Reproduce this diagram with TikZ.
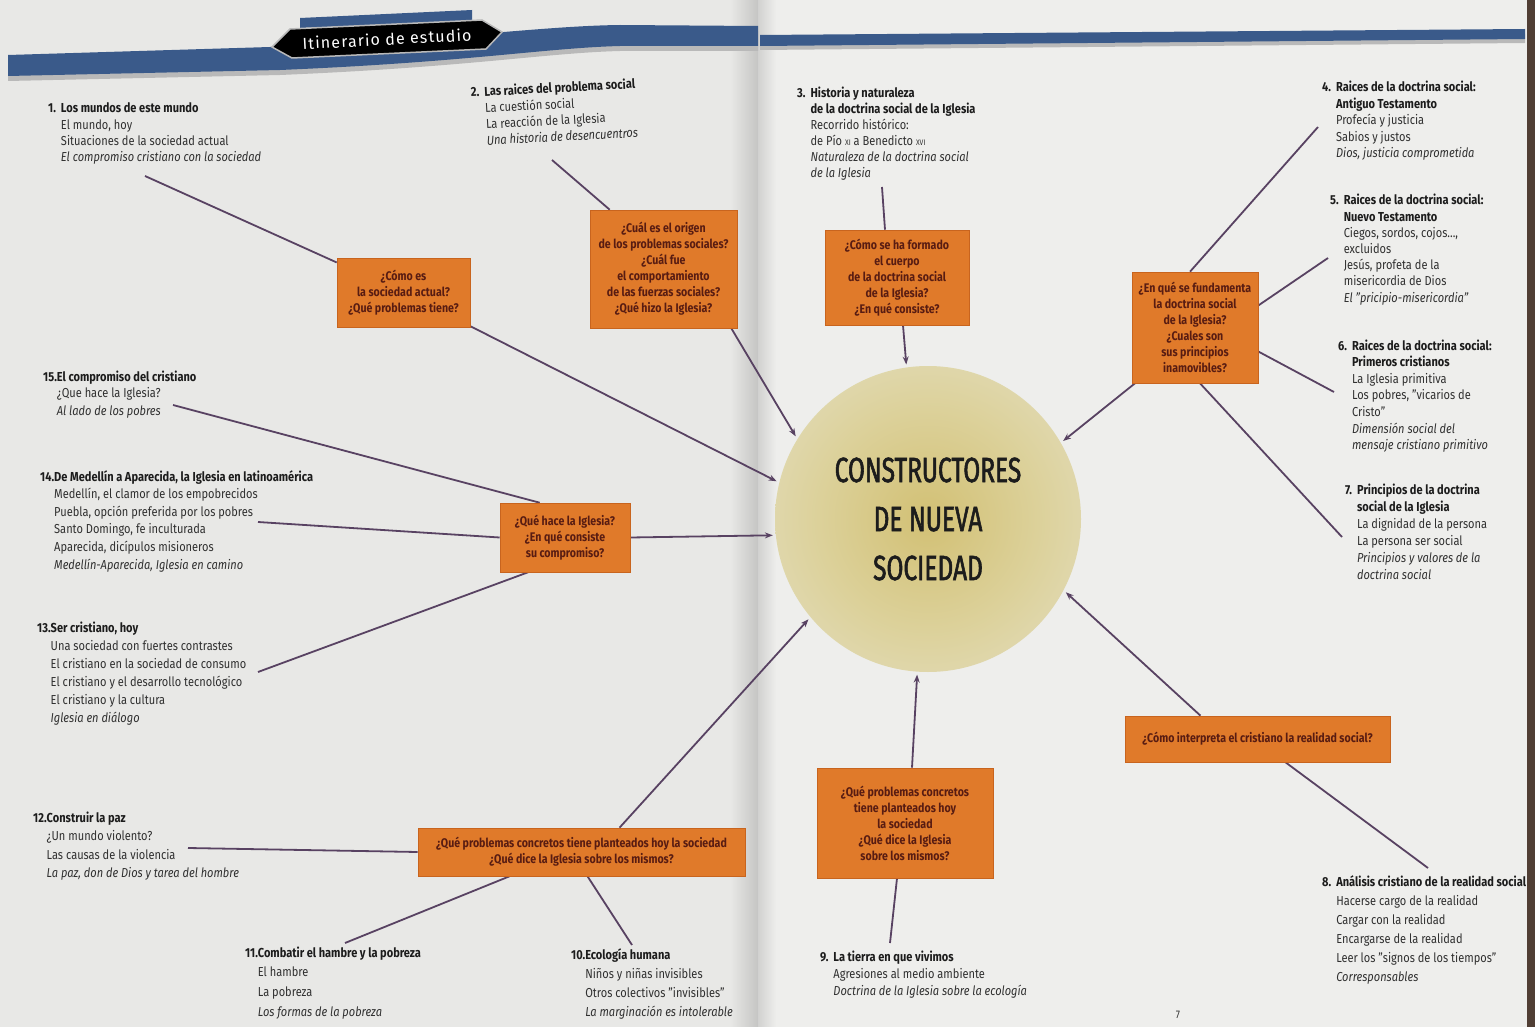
\documentclass[tikz,border=0pt]{standalone}
\usepackage{fontspec}
\setmainfont{Fira Sans}[FakeStretch=0.85]
\newfontfamily\bigfont{Fira Sans}[FakeStretch=0.7, FakeBold=1.6]
\newfontfamily\hdrfont{Fira Sans}[LetterSpace=7]
\usetikzlibrary{arrows.meta,calc}
\pgfdeclarelayer{paper}
\pgfdeclarelayer{bg}
\pgfsetlayers{paper,bg,main}
\definecolor{pageL}{RGB}{232,232,230}
\definecolor{pageR}{RGB}{238,238,236}
\definecolor{edgec}{RGB}{80,62,52}
\definecolor{bandblue}{RGB}{58,90,138}
\definecolor{shadowg}{RGB}{185,185,185}
\definecolor{orangebox}{RGB}{224,122,42}
\definecolor{orangedark}{RGB}{200,100,30}
\definecolor{boxtxt}{RGB}{88,28,18}
\definecolor{connc}{RGB}{88,66,98}
\definecolor{bodytxt}{RGB}{48,48,48}
\definecolor{titletxt}{RGB}{28,28,28}
\definecolor{ballin}{RGB}{210,192,116}
\definecolor{ballmid}{RGB}{220,209,154}
\definecolor{ballout}{RGB}{229,225,200}
\definecolor{balledge}{RGB}{235,233,220}
\pgfdeclareradialshading{ball}{\pgfpoint{0bp}{0bp}}{color(0bp)=(ballin); color(18bp)=(ballmid); color(38bp)=(ballout); color(50bp)=(balledge)}
\newcommand{\blockitem}[3]{\begin{tabular}[t]{@{}l@{}l@{}}\color{titletxt}\textbf{#1}&\color{titletxt}\textbf{#2}\\#3\end{tabular}}
\tikzset{
  txtblk/.style={anchor=base west, inner sep=0pt, text=bodytxt, font=\fontsize{13}{#1}\selectfont},
  txtblk/.default=17,
  qbox/.style={fill=orangebox, draw=orangedark, line width=0.6pt, text=boxtxt,
    font=\fontsize{12.5}{16}\selectfont\bfseries, align=center, inner sep=0pt},
  conn/.style={draw=connc, line width=1.8pt},
  arr/.style={conn, -{Stealth[length=8pt,width=6pt]}},
}
\begin{document}
\begin{tikzpicture}[x=1pt,y=-1pt]
\useasboundingbox (0,0) rectangle (1535,1027);
\begin{pgfonlayer}{paper}
\fill[pageL] (0,0) rectangle (758,1027);
\fill[pageR] (758,0) rectangle (1527,1027);
\shade[left color=pageL, right color=pageL!85!black] (730,0) rectangle (758,1027);
\shade[left color=pageR!88!black, right color=pageR] (758,0) rectangle (776,1027);
\fill[edgec] (1527,0) rectangle (1535,1027);
% header band shadow
\fill[shadowg] (8,60) -- (270,52) .. controls (450,45) and (540,31) .. (620,30) -- (758,31) -- (758,51) -- (620,51) .. controls (545,53) and (470,67) .. (280,75) -- (8,81) -- cycle;
\fill[bandblue] (8,55) -- (270,47) .. controls (450,40) and (540,26) .. (620,25) -- (758,26) -- (758,46) -- (620,46) .. controls (545,48) and (470,62) .. (280,70) -- (8,76) -- cycle;
\fill[shadowg] (760,40) -- (1525,34) -- (1525,43) -- (760,50) -- cycle;
\fill[bandblue] (760,35) -- (1525,29) -- (1525,39) -- (760,46) -- cycle;
% badge
\fill[bandblue] (300,18) -- (472,10) -- (472,21) -- (300,28) -- cycle;
\filldraw[fill=black, draw=gray!55, line width=1.5pt] (272,47) -- (290,29) -- (482,20) -- (502,32) -- (486,49) -- (292,58) -- cycle;
\end{pgfonlayer}
\node[text=white, font=\hdrfont\fontsize{16}{18}\selectfont, rotate=3, inner sep=0pt] (hdr) at (387,39) {Itinerario de estudio};

% central circle
\node[circle, shading=ball, minimum size=306pt, inner sep=0pt, outer sep=3pt, align=center,
  text=titletxt, font=\bigfont\fontsize{35}{49}\selectfont] (circ) at (928,519)
  {CONSTRUCTORES\\DE NUEVA\\SOCIEDAD};

% question boxes
\node[qbox, minimum width=133pt, minimum height=69pt] (A) at (403.5,292.5)
  {¿Cómo es\\la sociedad actual?\\¿Qué problemas tiene?};
\node[qbox, minimum width=147pt, minimum height=118pt] (B) at (663.5,269)
  {¿Cuál es el origen\\de los problemas sociales?\\¿Cuál fue\\el comportamiento\\de las fuerzas sociales?\\¿Qué hizo la Iglesia?};
\node[qbox, minimum width=144pt, minimum height=95pt] (C) at (897,277.5)
  {¿Cómo se ha formado\\el cuerpo\\de la doctrina social\\de la Iglesia?\\¿En qué consiste?};
\node[qbox, minimum width=126pt, minimum height=111pt] (D) at (1195,327.5)
  {¿En qué se fundamenta\\la doctrina social\\de la Iglesia?\\¿Cuales son\\sus principios\\inamovibles?};
\node[qbox, minimum width=130pt, minimum height=69pt] (E) at (565,537.5)
  {¿Qué hace la Iglesia?\\¿En qué consiste\\su compromiso?};
\node[qbox, minimum width=327pt, minimum height=48pt] (F) at (581.5,852)
  {¿Qué problemas concretos tiene planteados hoy la sociedad\\¿Qué dice la Iglesia sobre los mismos?};
\node[qbox, minimum width=176pt, minimum height=110pt] (G) at (905,823)
  {¿Qué problemas concretos\\tiene planteados hoy\\la sociedad\\¿Qué dice la Iglesia\\sobre los mismos?};
\node[qbox, minimum width=265pt, minimum height=46pt] (H) at (1257.5,739)
  {¿Cómo interpreta el cristiano la realidad social?};

% text blocks
\node[txtblk=16.3] (t1) at (48,113) {\blockitem{1.\kern5pt}{Los mundos de este mundo}{
  & El mundo, hoy\\ & Situaciones de la sociedad actual\\ & \textit{El compromiso cristiano con la sociedad}}};
\node[txtblk=16.3, rotate=3] (t2) at (471,97) {\blockitem{2.\kern5pt}{Las raices del problema social}{
  & La cuestión social\\ & La reacción de la Iglesia\\ & \textit{Una historia de desencuentros}}};
\node[txtblk=16] (t3) at (797,98) {\blockitem{3.\kern5pt}{Historia y naturaleza}{
  & \color{titletxt}\textbf{de la doctrina social de la Iglesia}\\ & Recorrido histórico:\\
  & de Pío {\fontsize{8}{8}\selectfont XI} a Benedicto {\fontsize{8}{8}\selectfont XVI}\\
  & \textit{Naturaleza de la doctrina social}\\ & \textit{de la Iglesia}}};
\node[txtblk=16.5] (t4) at (1322,92) {\blockitem{4.\kern5pt}{Raices de la doctrina social:}{
  & \color{titletxt}\textbf{Antiguo Testamento}\\ & Profecía y justicia\\ & Sabios y justos\\
  & \textit{Dios, justicia comprometida}}};
\node[txtblk=16.2] (t5) at (1330,205) {\blockitem{5.\kern5pt}{Raices de la doctrina social:}{
  & \color{titletxt}\textbf{Nuevo Testamento}\\ & Ciegos, sordos, cojos...,\\ & excluidos\\
  & Jesús, profeta de la\\ & misericordia de Dios\\ & \textit{El "pricipio-misericordia"}}};
\node[txtblk=16.6] (t6) at (1338,350) {\blockitem{6.\kern5pt}{Raices de la doctrina social:}{
  & \color{titletxt}\textbf{Primeros cristianos}\\ & La Iglesia primitiva\\ & Los pobres, "vicarios de\\
  & Cristo"\\ & \textit{Dimensión social del}\\ & \textit{mensaje cristiano primitivo}}};
\node[txtblk=17] (t7) at (1345,494) {\blockitem{7.\kern5pt}{Principios de la doctrina}{
  & \color{titletxt}\textbf{social de la Iglesia}\\ & La dignidad de la persona\\ & La persona ser social\\
  & \textit{Principios y valores de la}\\ & \textit{doctrina social}}};
\node[txtblk=19] (t8) at (1322,886) {\blockitem{8.\kern5pt}{Análisis cristiano de la realidad social}{
  & Hacerse cargo de la realidad\\ & Cargar con la realidad\\ & Encargarse de la realidad\\
  & Leer los "signos de los tiempos"\\ & \textit{Corresponsables}}};
\node[txtblk=17] (t9) at (820,961) {\blockitem{9.\kern5pt}{La tierra en que vivimos}{
  & Agresiones al medio ambiente\\ & \textit{Doctrina de la Iglesia sobre la ecología}}};
\node[txtblk=19] (t10) at (571,959) {\blockitem{10.}{Ecología humana}{
  & Niños y niñas invisibles\\ & Otros colectivos "invisibles"\\ & \textit{La marginación es intolerable}}};
\node[txtblk=19.7] (t11) at (245,957) {\blockitem{11.}{Combatir el hambre y la pobreza}{
  & El hambre\\ & La pobreza\\ & \textit{Los formas de la pobreza}}};
\node[txtblk=18.5] (t12) at (33,822) {\blockitem{12.}{Construir la paz}{
  & ¿Un mundo violento?\\ & Las causas de la violencia\\ & \textit{La paz, don de Dios y tarea del hombre}}};
\node[txtblk=18] (t13) at (37,632) {\blockitem{13.}{Ser cristiano, hoy}{
  & Una sociedad con fuertes contrastes\\ & El cristiano en la sociedad de consumo\\
  & El cristiano y el desarrollo tecnológico\\ & El cristiano y la cultura\\ & \textit{Iglesia en diálogo}}};
\node[txtblk=17.6] (t14) at (40,481) {\blockitem{14.}{De Medellín a Aparecida, la Iglesia en latinoamérica}{
  & Medellín, el clamor de los empobrecidos\\ & Puebla, opción preferida por los pobres\\
  & Santo Domingo, fe inculturada\\ & Aparecida, dicípulos misioneros\\
  & \textit{Medellín-Aparecida, Iglesia en camino}}};
\node[txtblk=17] (t15) at (43,381) {\blockitem{15.}{El compromiso del cristiano}{
  & ¿Que hace la Iglesia?\\ & \textit{Al lado de los pobres}}};
\node[font=\fontsize{11}{11}\selectfont, text=bodytxt] (pg) at (1178,1015) {7};

% connector free ends
\coordinate (c1) at (145,176);
\coordinate (c2) at (552,160);
\coordinate (c3) at (882,187);
\coordinate (c4) at (1318,127);
\coordinate (c5) at (1328,258);
\coordinate (c6) at (1334,392);
\coordinate (c7) at (1342,537);
\coordinate (c8) at (1428,868);
\coordinate (c9) at (890,943);
\coordinate (c10) at (632,945);
\coordinate (c11) at (345,943);
\coordinate (c12) at (188,848);
\coordinate (c13) at (258,672);
\coordinate (c14) at (258,522);
\coordinate (c15) at (173,405);

\begin{pgfonlayer}{bg}
\draw[conn] (c1) -- (A);
\draw[arr] (A) -- (circ.166);
\draw[conn] (c2) -- ([xshift=20pt]B.north west);
\draw[arr] ([xshift=-6pt]B.south east) -- (circ.148);
\draw[conn] (c3) -- ([xshift=-12pt]C.north);
\draw[arr] ([xshift=6pt]C.south) -- (circ.98.6);
\draw[conn] (c4) -- ([xshift=-5pt]D.north);
\draw[conn] (c5) -- ([yshift=22pt]D.east);
\draw[conn] (c6) -- ([yshift=-24pt]D.east);
\draw[conn] ([xshift=5pt]D.south) -- (c7);
\draw[arr] ([xshift=-60pt]D.south) -- (circ.30);
\draw[arr] ([xshift=-57pt]H.north) -- (circ.-28);
\draw[conn] ([xshift=28pt]H.south) -- (c8);
\draw[conn] ([xshift=-8pt]G.south) -- (c9);
\draw[arr] ([xshift=7pt]G.north) -- (circ.266);
\draw[conn] (c15) -- ([xshift=40pt]E.north west);
\draw[conn] (c14) -- (E.west);
\draw[arr] (E.east) -- (circ.186);
\draw[conn] ([xshift=-37pt]E.south) -- (c13);
\draw[conn] (c12) -- (F.west);
\draw[arr] ([xshift=38pt]F.north) -- (circ.220);
\draw[conn] ([xshift=-72pt]F.south) -- (c11);
\draw[conn] ([xshift=6pt]F.south) -- (c10);
\end{pgfonlayer}
\end{tikzpicture}
\end{document}
